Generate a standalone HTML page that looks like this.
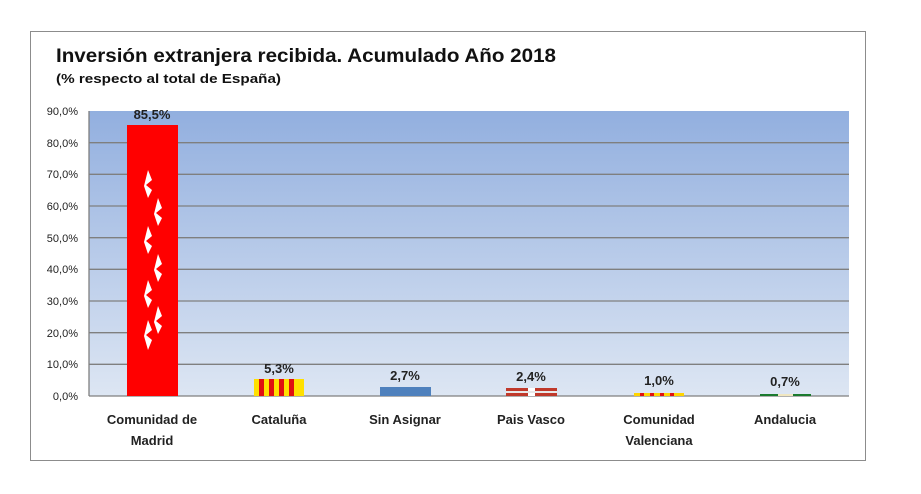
<!DOCTYPE html>
<html><head><meta charset="utf-8"><style>body{margin:0;background:#fff}svg{display:block}text{font-family:"Liberation Sans",sans-serif}</style></head><body>
<svg width="921" height="494" viewBox="0 0 921 494">
<defs><linearGradient id="g" x1="0" y1="0" x2="0" y2="1"><stop offset="0" stop-color="#92afdf"/><stop offset="1" stop-color="#dde6f3"/></linearGradient></defs>
<rect x="30.5" y="31.5" width="835" height="429" fill="#fff" stroke="#8c8c8c"/>
<text x="56" y="62" font-size="19" font-weight="bold" fill="#111" textLength="500" lengthAdjust="spacingAndGlyphs">Inversión extranjera recibida. Acumulado Año 2018</text>
<text x="56" y="83" font-size="13" font-weight="bold" fill="#111" textLength="225" lengthAdjust="spacingAndGlyphs">(% respecto al total de España)</text>
<rect x="89" y="111" width="760" height="285" fill="url(#g)"/>
<g stroke="#7f7f7f" stroke-width="1.3">
<line x1="89" x2="849" y1="142.7" y2="142.7"/><line x1="89" x2="849" y1="174.3" y2="174.3"/><line x1="89" x2="849" y1="206" y2="206"/><line x1="89" x2="849" y1="237.7" y2="237.7"/><line x1="89" x2="849" y1="269.3" y2="269.3"/><line x1="89" x2="849" y1="301" y2="301"/><line x1="89" x2="849" y1="332.7" y2="332.7"/><line x1="89" x2="849" y1="364.3" y2="364.3"/><line x1="89" x2="849" y1="396" y2="396"/>
<line x1="89" x2="89" y1="111" y2="396"/></g>
<g font-size="11" fill="#222" text-anchor="end">
<text x="78" y="115">90,0%</text><text x="78" y="147">80,0%</text><text x="78" y="178">70,0%</text><text x="78" y="210">60,0%</text><text x="78" y="242">50,0%</text><text x="78" y="273">40,0%</text><text x="78" y="305">30,0%</text><text x="78" y="337">20,0%</text><text x="78" y="368">10,0%</text><text x="78" y="400">0,0%</text></g>
<rect x="127" y="125" width="51" height="271" fill="#f00"/>
<g fill="#fff"><polygon points="148,170 152,180 146,185 152,190 148,198 144,186"/><polygon points="158,198 162,208 156,213 162,218 158,226 154,214"/><polygon points="148,226 152,236 146,241 152,246 148,254 144,242"/><polygon points="158,254 162,264 156,269 162,274 158,282 154,270"/><polygon points="148,280 152,290 146,295 152,300 148,308 144,296"/><polygon points="158,306 162,316 156,321 162,326 158,334 154,322"/><polygon points="148,320 152,330 146,335 152,340 148,350 144,336"/></g>
<rect x="254" y="379" width="50" height="17" fill="#ffe000"/>
<g fill="#e01010"><rect x="259" y="379" width="5" height="17"/><rect x="269" y="379" width="5" height="17"/><rect x="279" y="379" width="5" height="17"/><rect x="289" y="379" width="5" height="17"/></g>
<rect x="380" y="387" width="51" height="9" fill="#4f81bd"/>
<rect x="506" y="388" width="22" height="8" fill="#c0392b"/><rect x="535" y="388" width="22" height="8" fill="#c0392b"/><rect x="528" y="388" width="7" height="8" fill="#fff"/><rect x="506" y="391" width="51" height="2" fill="#e8e8e8"/>
<rect x="634" y="393" width="50" height="3" fill="#ffd400"/><g fill="#e01010"><rect x="640" y="393" width="4" height="3"/><rect x="650" y="393" width="4" height="3"/><rect x="660" y="393" width="4" height="3"/><rect x="670" y="393" width="4" height="3"/></g>
<rect x="760" y="394" width="18" height="2" fill="#1b7a2e"/><rect x="793" y="394" width="18" height="2" fill="#1b7a2e"/><rect x="778" y="394" width="15" height="2" fill="#f0e6c0"/>
<g font-size="13" font-weight="bold" fill="#222" text-anchor="middle">
<text x="152" y="119">85,5%</text><text x="279" y="373">5,3%</text><text x="405" y="380">2,7%</text><text x="531" y="381">2,4%</text><text x="659" y="385">1,0%</text><text x="785" y="386">0,7%</text>
<text x="152" y="424">Comunidad de</text><text x="152" y="445">Madrid</text><text x="279" y="424">Cataluña</text><text x="405" y="424">Sin Asignar</text><text x="531" y="424">Pais Vasco</text><text x="659" y="424">Comunidad</text><text x="659" y="445">Valenciana</text><text x="785" y="424">Andalucia</text></g>
</svg></body></html>
